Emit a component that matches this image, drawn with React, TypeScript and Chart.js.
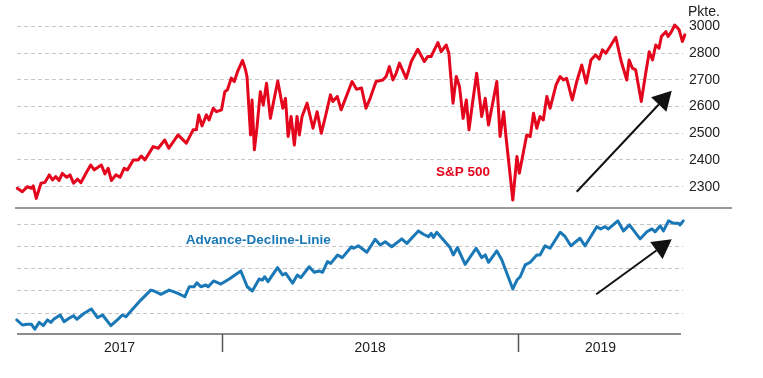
import { useEffect, useRef } from "react";
import { Chart, registerables } from "chart.js";

Chart.register(...registerables);

// ---- Data (time in decimal years) ----
const spTime = [
  2017.308, 2017.325, 2017.342, 2017.356, 2017.362, 2017.372, 2017.388, 2017.401, 2017.416, 2017.427,
  2017.438, 2017.449, 2017.46, 2017.475, 2017.486, 2017.498, 2017.511, 2017.523, 2017.54, 2017.556,
  2017.568, 2017.592, 2017.604, 2017.615, 2017.626, 2017.641, 2017.655, 2017.669, 2017.68, 2017.7,
  2017.716, 2017.727, 2017.739, 2017.767, 2017.784, 2017.806, 2017.82, 2017.851, 2017.879, 2017.902,
  2017.913, 2017.921, 2017.932, 2017.947, 2017.956, 2017.97, 2017.981, 2017.998, 2018.009, 2018.018,
  2018.031, 2018.041, 2018.052, 2018.069, 2018.079, 2018.084, 2018.096, 2018.101, 2018.109, 2018.118,
  2018.129, 2018.139, 2018.15, 2018.163, 2018.175, 2018.188, 2018.205, 2018.214, 2018.223, 2018.233,
  2018.244, 2018.253, 2018.261, 2018.27, 2018.287, 2018.307, 2018.321, 2018.335, 2018.349, 2018.366,
  2018.374, 2018.389, 2018.402, 2018.439, 2018.454, 2018.471, 2018.486, 2018.5, 2018.52, 2018.543,
  2018.554, 2018.565, 2018.577, 2018.588, 2018.599, 2018.622, 2018.639, 2018.661, 2018.683, 2018.695,
  2018.706, 2018.729, 2018.74, 2018.757, 2018.766, 2018.78, 2018.791, 2018.802, 2018.814, 2018.825,
  2018.834, 2018.845, 2018.86, 2018.877, 2018.889, 2018.9, 2018.928, 2018.939, 2018.951, 2018.959,
  2018.982, 2018.996, 2019.004, 2019.016, 2019.029, 2019.041, 2019.052, 2019.063, 2019.074, 2019.085,
  2019.097, 2019.108, 2019.128, 2019.142, 2019.153, 2019.164, 2019.183, 2019.198, 2019.215, 2019.23,
  2019.246, 2019.262, 2019.274, 2019.285, 2019.296, 2019.307, 2019.33, 2019.347, 2019.367, 2019.375,
  2019.386, 2019.397, 2019.416, 2019.431, 2019.443, 2019.454, 2019.465, 2019.476, 2019.484, 2019.499,
  2019.507, 2019.518, 2019.529, 2019.544, 2019.555, 2019.563,
];
const spValues = [
  2394, 2381, 2400, 2394, 2403, 2356, 2413, 2416, 2444, 2425,
  2438, 2423, 2450, 2435, 2444, 2413, 2428, 2415, 2450, 2481,
  2463, 2481, 2448, 2469, 2423, 2444, 2435, 2469, 2463, 2500,
  2500, 2515, 2500, 2550, 2544, 2575, 2544, 2594, 2563, 2613,
  2613, 2669, 2628, 2669, 2650, 2694, 2681, 2688, 2756, 2763,
  2807, 2794, 2831, 2873, 2838, 2813, 2594, 2725, 2538, 2625,
  2756, 2706, 2788, 2656, 2725, 2796, 2694, 2731, 2588, 2663,
  2556, 2663, 2594, 2663, 2713, 2619, 2681, 2600, 2663, 2744,
  2719, 2738, 2688, 2794, 2765, 2770, 2694, 2731, 2794, 2800,
  2813, 2850, 2800, 2825, 2863, 2806, 2869, 2915, 2869, 2888,
  2888, 2940, 2906, 2931, 2900, 2713, 2813, 2775, 2656, 2725,
  2613, 2706, 2825, 2663, 2731, 2631, 2794, 2588, 2681, 2588,
  2350, 2513, 2450, 2519, 2594, 2588, 2675, 2619, 2663, 2650,
  2738, 2694, 2781, 2813, 2800, 2806, 2725, 2794, 2856, 2788,
  2875, 2894, 2878, 2913, 2900, 2919, 2960, 2875, 2800, 2875,
  2844, 2838, 2719, 2825, 2906, 2875, 2931, 2919, 2963, 2981,
  2963, 2981, 3006, 2988, 2944, 2969,
];

const adTime = [
  2017.306, 2017.325, 2017.342, 2017.356, 2017.367, 2017.382, 2017.396, 2017.41, 2017.421, 2017.432,
  2017.453, 2017.466, 2017.483, 2017.498, 2017.509, 2017.534, 2017.558, 2017.579, 2017.596, 2017.624,
  2017.646, 2017.663, 2017.675, 2017.692, 2017.725, 2017.759, 2017.77, 2017.793, 2017.821, 2017.849,
  2017.874, 2017.889, 2017.905, 2017.915, 2017.928, 2017.945, 2017.953, 2017.971, 2017.996, 2018.024,
  2018.063, 2018.085, 2018.102, 2018.125, 2018.136, 2018.144, 2018.155, 2018.187, 2018.204, 2018.215,
  2018.238, 2018.254, 2018.266, 2018.294, 2018.311, 2018.328, 2018.339, 2018.356, 2018.367, 2018.39,
  2018.406, 2018.437, 2018.444, 2018.46, 2018.489, 2018.517, 2018.534, 2018.551, 2018.573, 2018.607,
  2018.624, 2018.663, 2018.68, 2018.697, 2018.706, 2018.714, 2018.725, 2018.748, 2018.77, 2018.781,
  2018.795, 2018.821, 2018.858, 2018.877, 2018.889, 2018.9, 2018.928, 2018.945, 2018.982, 2018.996,
  2019.007, 2019.024, 2019.041, 2019.063, 2019.074, 2019.091, 2019.108, 2019.142, 2019.159, 2019.178,
  2019.209, 2019.226, 2019.266, 2019.279, 2019.294, 2019.305, 2019.337, 2019.356, 2019.376, 2019.412,
  2019.435, 2019.452, 2019.463, 2019.48, 2019.491, 2019.508, 2019.525, 2019.542, 2019.547, 2019.558,
];
const adValues = [
  0.69, 0.46, 0.49, 0.49, 0.27, 0.58, 0.43, 0.69, 0.58, 0.73,
  0.91, 0.61, 0.76, 0.88, 0.72, 0.99, 1.18, 0.79, 0.91, 0.43,
  0.69, 0.91, 0.83, 1.09, 1.58, 2.03, 1.99, 1.84, 2.03, 1.89,
  1.73, 2.18, 2.18, 2.36, 2.18, 2.26, 2.18, 2.44, 2.3, 2.53,
  2.89, 2.18, 1.99, 2.53, 2.48, 2.63, 2.41, 3.04, 2.71, 2.78,
  2.34, 2.71, 2.59, 3.08, 2.83, 2.89, 2.83, 3.31, 3.23, 3.61,
  3.49, 3.98, 3.91, 4.02, 3.73, 4.31, 4.06, 4.2, 3.98, 4.33,
  4.13, 4.69, 4.54, 4.43, 4.58, 4.4, 4.63, 4.28, 3.94, 3.61,
  3.94, 3.19, 3.91, 3.49, 3.61, 3.28, 3.79, 3.38, 2.08, 2.48,
  2.63, 3.16, 3.28, 3.61, 3.61, 4.02, 3.91, 4.63, 4.43, 4.02,
  4.36, 4.02, 4.88, 4.78, 4.88, 4.78, 5.14, 4.69, 4.96, 4.33,
  4.65, 4.78, 4.65, 4.92, 4.69, 5.14, 5.03, 5.03, 4.96, 5.14,
];

// axis / tick definitions
const xRange = [2017.307, 2019.557];
const yearLabels = ["2017", "2018", "2019"];
const yearBoundaries = [2018, 2019];
const spRange = [2320, 3081];
const spTickValues = [3000, 2900, 2800, 2700, 2600, 2500, 2400];
const spTickLabels = ["3000", "2800", "2700", "2600", "2500", "2400", "2300"];
const adRange = [0.056, 5.72];
const adTickValues = [1, 2, 3, 4, 5];
const unitLabel = "Pkte.";

// annotations (data coordinates)
const spLabel = { text: "S&P 500", x: 2018.814, y: 2455 };
const adLabel = { text: "Advance-Decline-Linie", x: 2018.122, y: 4.28 };
const spArrow = { x1: 2019.198, y1: 2381, x2: 2019.519, y2: 2760 };
const adArrow = { x1: 2019.264, y1: 1.84, x2: 2019.519, y2: 4.312 };

const RED = "#e3061d";
const BLUE = "#1a78b6";
const FONT = "'Liberation Sans', Arial, sans-serif";

function drawArrow(ctx: CanvasRenderingContext2D, x1: number, y1: number, x2: number, y2: number) {
  const ang = Math.atan2(y2 - y1, x2 - x1);
  const headLen = 19;
  const halfW = 10.5;
  const bx = x2 - headLen * Math.cos(ang);
  const by = y2 - headLen * Math.sin(ang);
  ctx.save();
  ctx.strokeStyle = "#111";
  ctx.fillStyle = "#111";
  ctx.lineWidth = 2;
  ctx.beginPath();
  ctx.moveTo(x1, y1);
  ctx.lineTo(bx, by);
  ctx.stroke();
  ctx.beginPath();
  ctx.moveTo(x2, y2);
  ctx.lineTo(bx + halfW * Math.sin(ang), by - halfW * Math.cos(ang));
  ctx.lineTo(bx - halfW * Math.sin(ang), by + halfW * Math.cos(ang));
  ctx.closePath();
  ctx.fill();
  ctx.restore();
}

const decorPlugin = {
  id: "decor",
  afterDatasetsDraw(chart: any) {
    const { ctx, chartArea, scales } = chart;
    const x = scales.x;
    const ySP = scales.ySP;
    const yAD = scales.yAD;
    ctx.save();
    // separator between panels
    ctx.strokeStyle = "#9a9a9a";
    ctx.lineWidth = 2;
    ctx.beginPath();
    ctx.moveTo(chartArea.left - 2, ySP.bottom);
    ctx.lineTo(chart.width - 31, ySP.bottom);
    ctx.stroke();
    // bottom axis line
    ctx.strokeStyle = "#8c8c8c";
    ctx.beginPath();
    ctx.moveTo(chartArea.left, chartArea.bottom);
    ctx.lineTo(chartArea.right - 2, chartArea.bottom);
    ctx.stroke();
    // year separators
    ctx.strokeStyle = "#555";
    ctx.lineWidth = 1.5;
    for (const b of yearBoundaries) {
      const px = Math.round(x.getPixelForValue(b)) + 0.5;
      ctx.beginPath();
      ctx.moveTo(px, chartArea.bottom);
      ctx.lineTo(px, chartArea.bottom + 18);
      ctx.stroke();
    }
    // unit label
    ctx.fillStyle = "#222";
    ctx.font = `14px ${FONT}`;
    ctx.textAlign = "left";
    ctx.textBaseline = "middle";
    ctx.fillText(unitLabel, chartArea.right + 5, 12);
    // series labels
    ctx.textAlign = "center";
    ctx.font = `bold 13.5px ${FONT}`;
    ctx.fillStyle = RED;
    ctx.fillText(spLabel.text, x.getPixelForValue(spLabel.x), ySP.getPixelForValue(spLabel.y));
    ctx.fillStyle = BLUE;
    ctx.fillText(adLabel.text, x.getPixelForValue(adLabel.x), yAD.getPixelForValue(adLabel.y));
    ctx.restore();
    // arrows
    drawArrow(ctx, x.getPixelForValue(spArrow.x1), ySP.getPixelForValue(spArrow.y1), x.getPixelForValue(spArrow.x2), ySP.getPixelForValue(spArrow.y2));
    drawArrow(ctx, x.getPixelForValue(adArrow.x1), yAD.getPixelForValue(adArrow.y1), x.getPixelForValue(adArrow.x2), yAD.getPixelForValue(adArrow.y2));
  },
};

const noPad = (s: any) => {
  s.paddingTop = 0;
  s.paddingBottom = 0;
};

export default function App() {
  const ref = useRef<HTMLCanvasElement | null>(null);
  useEffect(() => {
    if (!ref.current) return;
    const segs = [xRange[0], ...yearBoundaries, xRange[1]];
    const mids = yearLabels.map((_, i) => (segs[i] + segs[i + 1]) / 2);
    const gridColor = "#c6c6c6";
    const chart = new Chart(ref.current, {
      type: "line",
      data: {
        datasets: [
          {
            label: "S&P 500",
            data: spTime.map((t, i) => ({ x: t, y: spValues[i] })),
            yAxisID: "ySP",
            borderColor: RED,
            borderWidth: 3,
            borderJoinStyle: "round",
            borderCapStyle: "round",
            pointRadius: 0,
            tension: 0,
            clip: 5,
          },
          {
            label: "Advance-Decline-Linie",
            data: adTime.map((t, i) => ({ x: t, y: adValues[i] })),
            yAxisID: "yAD",
            borderColor: BLUE,
            borderWidth: 3,
            borderJoinStyle: "round",
            borderCapStyle: "round",
            pointRadius: 0,
            tension: 0,
            clip: 5,
          },
        ],
      },
      options: {
        responsive: false,
        animation: false,
        devicePixelRatio: 1,
        layout: { padding: { left: 17, top: 5, right: 0, bottom: 0 } },
        plugins: { legend: { display: false }, tooltip: { enabled: false } },
        scales: {
          x: {
            type: "linear",
            min: xRange[0],
            max: xRange[1],
            grid: { display: false, drawTicks: false },
            border: { display: false },
            afterBuildTicks: (s: any) => {
              s.ticks = mids.map((v) => ({ value: v }));
            },
            afterFit: (s: any) => {
              s.height = 44;
              s.paddingLeft = 0;
              s.paddingRight = 0;
            },
            ticks: {
              autoSkip: false,
              maxRotation: 0,
              padding: 6,
              color: "#222",
              font: { family: FONT, size: 14 },
              callback: (_v: any, i: number) => yearLabels[i],
            },
          },
          ySP: {
            type: "linear",
            position: "right",
            stack: "panels",
            stackWeight: 203,
            min: spRange[0],
            max: spRange[1],
            afterBuildTicks: (s: any) => {
              s.ticks = spTickValues.map((v) => ({ value: v }));
            },
            afterFit: (s: any) => {
              s.width = 80;
              noPad(s);
            },
            grid: { color: gridColor, lineWidth: 1, drawTicks: false },
            border: { display: false, dash: [4, 3] },
            ticks: {
              autoSkip: false,
              padding: 6,
              color: "#222",
              font: { family: FONT, size: 14 },
              callback: (_v: any, i: number) => spTickLabels[i],
            },
          },
          yAD: {
            type: "linear",
            position: "right",
            stack: "panels",
            stackWeight: 126,
            min: adRange[0],
            max: adRange[1],
            afterBuildTicks: (s: any) => {
              s.ticks = adTickValues.map((v) => ({ value: v }));
            },
            afterFit: (s: any) => {
              s.width = 80;
              noPad(s);
            },
            grid: { color: gridColor, lineWidth: 1, drawTicks: false },
            border: { display: false, dash: [4, 3] },
            ticks: { display: false, autoSkip: false },
          },
        },
      },
      plugins: [decorPlugin],
    } as any);
    return () => chart.destroy();
  }, []);
  return (
    <div style={{ position: "fixed", left: 0, top: 0, width: 763, height: 378, background: "#fff" }}>
      <canvas ref={ref} width={763} height={378} style={{ display: "block", width: 763, height: 378 }} />
    </div>
  );
}
